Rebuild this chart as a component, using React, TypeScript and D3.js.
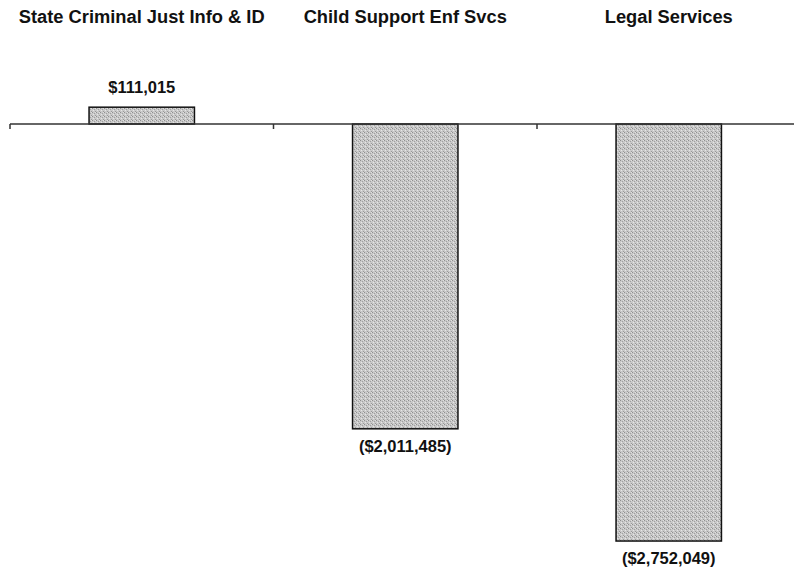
import React from "react";
import * as d3 from "d3";

const categories = ["State Criminal Just Info & ID", "Child Support Enf Svcs", "Legal Services"];
const values = [111015, -2011485, -2752049];
const valueLabels = ["$111,015", "($2,011,485)", "($2,752,049)"];

const W = 794;
const H = 572;

export default function App() {
  const x = d3.scaleBand<string>().domain(categories).range([10, 800.5]).paddingInner(0).paddingOuter(0);
  const y = d3.scaleLinear().domain([-2800000, 200000]).range([548.3, 93.7]);
  const bw = x.bandwidth() * 0.4;
  const y0 = y(0);
  const ticks = [0, 1, 2, 3].map((i) => 10 + i * x.bandwidth());

  return (
    <svg width={W} height={H} style={{ position: "absolute", left: 0, top: 0, background: "#fff" }}
      fontFamily="Arial, 'Liberation Sans', sans-serif">
      <defs>
        <pattern id="stip" width="4" height="4" patternUnits="userSpaceOnUse">
          <rect width="4" height="4" fill="#c9c9c9" />
          <rect x="0" y="0" width="1" height="1" fill="#8f8f8f" />
          <rect x="2" y="1" width="1" height="1" fill="#a0a0a0" />
          <rect x="1" y="2" width="1" height="1" fill="#e6e6e6" />
          <rect x="3" y="3" width="1" height="1" fill="#9a9a9a" />
          <rect x="3" y="0" width="1" height="1" fill="#e0e0e0" />
        </pattern>
      </defs>
      {categories.map((c, i) => (
        <text key={"t" + i} x={(x(c) as number) + x.bandwidth() / 2} y={23} textAnchor="middle"
          fontSize={18.3} fontWeight="bold" fill="#111">{c}</text>
      ))}
      {categories.map((c, i) => {
        const v = values[i];
        const bx = (x(c) as number) + (x.bandwidth() - bw) / 2;
        const top = Math.min(y(v), y0);
        const h = Math.abs(y(v) - y0);
        return (
          <g key={"b" + i}>
            <rect x={bx} y={top} width={bw} height={h} fill="url(#stip)" stroke="#111" strokeWidth={1.5} />
            <text x={bx + bw / 2} y={v >= 0 ? y(v) - 14 : y(v) + 23} textAnchor="middle"
              fontSize={16.5} fontWeight="bold" fill="#111">{valueLabels[i]}</text>
          </g>
        );
      })}
      <line x1={10} x2={W} y1={y0} y2={y0} stroke="#333" strokeWidth={1.5} />
      {ticks.map((t, i) => (
        <line key={"k" + i} x1={t} x2={t} y1={y0} y2={y0 + 5} stroke="#333" strokeWidth={1.5} />
      ))}
    </svg>
  );
}
